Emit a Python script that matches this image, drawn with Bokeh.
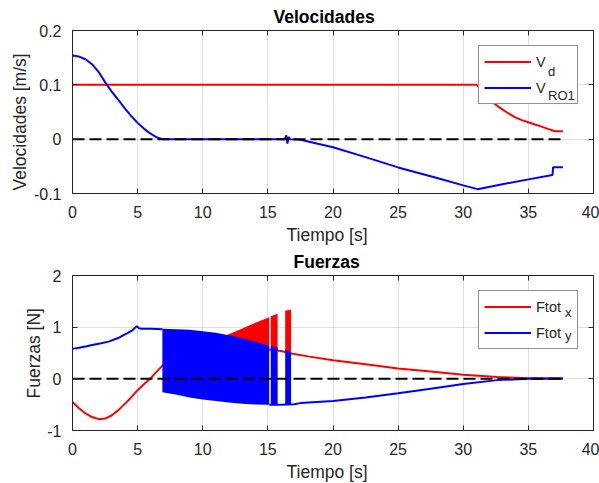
from bokeh.plotting import figure
from bokeh.models import Range1d, FixedTicker, LinearAxis, Legend, LegendItem, Title
from bokeh.layouts import column
from bokeh.embed import file_html
from bokeh.resources import INLINE

# ---------------- data ----------------
x_ticks = [0, 5, 10, 15, 20, 25, 30, 35, 40]
x_tick_labels = ["0", "5", "10", "15", "20", "25", "30", "35", "40"]

vel_ticks = [-0.1, 0, 0.1, 0.2]
vel_tick_labels = ["-0.1", "0", "0.1", "0.2"]
force_ticks = [-1, 0, 1, 2]
force_tick_labels = ["-1", "0", "1", "2"]

zero_t = [0, 37.65]
zero_v = [0, 0]

# Velocidades: V_d (red)
t_vd = [0, 31.03, 31.3, 31.8, 32.3, 32.8, 33.3, 34.0, 34.5, 35.0, 35.5, 35.9, 36.5, 37.05, 37.65]
v_d = [0.1, 0.1, 0.093, 0.080, 0.067, 0.058, 0.050, 0.040, 0.035, 0.031, 0.027, 0.024, 0.019, 0.0147, 0.0147]

# Velocidades: V_RO1 (blue)
t_vro = [0, 0.5, 1.0, 1.5, 2.0, 2.5, 3.0, 3.5, 4.0, 4.5, 5.0, 5.5, 6.0, 6.5, 6.9, 10, 16.3, 16.42,
         16.5, 16.6, 16.7, 17.5, 20, 22.5, 25, 28.2, 30, 31.1, 33, 35, 36.85, 36.9, 37.65]
v_ro1 = [0.154, 0.152, 0.147, 0.138, 0.124, 0.105, 0.088, 0.073, 0.057, 0.043, 0.030, 0.019, 0.010, 0.003,
         0.0, 0.0, 0.0, 0.007, -0.008, 0.004, 0.0, -0.001, -0.015, -0.033, -0.052, -0.073, -0.085, -0.092,
         -0.083, -0.074, -0.066, -0.0516, -0.0516]

# Fuerzas: Ftot_x (red)
t_fx = [0, 0.5, 1.0, 1.5, 2.0, 2.5, 3.0, 3.5, 4.0, 4.5, 5.0, 5.5, 6.0, 6.5, 7.0, 7.5, 8.5, 9.5, 10.5,
        11.5, 12.5, 13.5, 14.5, 15.04, 16.0, 16.8, 18.2, 20, 22.5, 25, 27.5, 30, 32.6, 35, 37.65]
f_x = [-0.45, -0.57, -0.67, -0.74, -0.78, -0.77, -0.71, -0.61, -0.49, -0.36, -0.22, -0.10, 0.01, 0.15,
       0.28, 0.38, 0.52, 0.62, 0.66, 0.66, 0.64, 0.62, 0.59, 0.57, 0.54, 0.49, 0.43, 0.36, 0.28, 0.20,
       0.14, 0.08, 0.037, 0.01, 0.01]
# dense oscillation of Ftot_x (envelope segments)
fx_osc_t = [[11.85, 13.0, 14.0, 15.1], [15.22, 15.75], [16.33, 16.78]]
fx_osc_top = [[0.85, 0.97, 1.08, 1.19], [1.21, 1.26], [1.32, 1.34]]
fx_osc_bot = [[0.66, 0.63, 0.60, 0.57], [0.57, 0.55], [0.53, 0.49]]

# Fuerzas: Ftot_y (blue)
t_fy_a = [0, 0.5, 1.1, 1.6, 2.2, 2.77, 3.5, 4.17, 4.6, 4.94, 5.1, 5.3, 6.0, 6.9]
f_y_a = [0.58, 0.60, 0.63, 0.66, 0.69, 0.72, 0.79, 0.88, 0.94, 1.02, 0.98, 0.97, 0.97, 0.96]
t_fy_b = [15.1, 16.0, 17.0, 17.5, 20, 22.5, 25, 27.5, 30, 32.6, 35, 37.65]
f_y_b = [-0.50, -0.50, -0.49, -0.47, -0.43, -0.36, -0.28, -0.19, -0.10, -0.025, 0.0, 0.0]
# dense oscillation of Ftot_y (envelope segments)
fy_osc_t = [[6.9, 8, 9, 10, 11, 12, 13, 14, 15.1], [15.22, 15.75], [16.33, 16.78]]
fy_osc_top = [[0.97, 0.96, 0.95, 0.92, 0.89, 0.845, 0.79, 0.72, 0.64], [0.63, 0.60], [0.57, 0.52]]
fy_osc_bot = [[-0.26, -0.31, -0.36, -0.40, -0.43, -0.46, -0.48, -0.495, -0.50], [-0.50, -0.50], [-0.50, -0.50]]

# ---------------- style ----------------
FONT = "Liberation Sans"
TXT = "#262626"
RED = "#ff0000"
BLUE = "#0000ff"


def mirror_axis(ticks):
    return LinearAxis(ticker=FixedTicker(ticks=ticks), major_label_text_font_size="1px",
                      major_label_text_color=None, major_label_standoff=0,
                      major_tick_in=5, major_tick_out=0, minor_tick_line_color=None,
                      axis_line_color=TXT, major_tick_line_color=TXT)


def base_fig(height, yr, yt, ytl, title, title_off, ylabel, ylabel_off, xlabel_off, mtop, mbot):
    p = figure(width=599, height=height, x_range=Range1d(0, 40), y_range=Range1d(*yr),
               output_backend="svg", toolbar_location=None, title=None,
               min_border_left=72, min_border_right=6, min_border_top=mtop, min_border_bottom=mbot,
               background_fill_color="white", border_fill_color="white")
    p.outline_line_color = TXT
    p.outline_line_width = 1
    p.xaxis.ticker = FixedTicker(ticks=x_ticks)
    p.xaxis.major_label_overrides = dict(zip(x_ticks, x_tick_labels))
    p.yaxis.ticker = FixedTicker(ticks=yt)
    p.yaxis.major_label_overrides = dict(zip(yt, ytl))
    for ax in p.axis:
        ax.major_tick_in = 5
        ax.major_tick_out = 0
        ax.minor_tick_line_color = None
        ax.axis_line_color = TXT
        ax.major_tick_line_color = TXT
        ax.major_label_text_font = FONT
        ax.major_label_text_font_size = "16px"
        ax.major_label_text_color = TXT
    p.xaxis.major_label_standoff = 12
    p.yaxis.major_label_standoff = 11
    p.xgrid.ticker = FixedTicker(ticks=x_ticks)
    p.ygrid.ticker = FixedTicker(ticks=yt)
    p.grid.grid_line_color = TXT
    p.grid.grid_line_alpha = 0.15
    p.grid.grid_line_width = 1
    p.add_layout(mirror_axis(x_ticks), "above")
    p.add_layout(mirror_axis(yt), "right")
    p.add_layout(Title(text=title, align="left", offset=title_off, text_font=FONT,
                       text_font_size="17.5px", text_font_style="bold", text_color="black",
                       standoff=7), "above")
    p.add_layout(Title(text="Tiempo [s]", align="left", offset=xlabel_off, text_font=FONT,
                       text_font_size="17.5px", text_font_style="normal", text_color=TXT,
                       standoff=4), "below")
    p.add_layout(Title(text=ylabel, align="left", offset=ylabel_off, text_font=FONT,
                       text_font_size="17.5px", text_font_style="normal", text_color=TXT,
                       standoff=1), "left")
    return p


def add_legend(p, r1, r2, main1, main2, sub1, sub2, sub_loc, sub_spacing):
    leg = Legend(items=[LegendItem(label=main1, renderers=[r1]), LegendItem(label=main2, renderers=[r2])],
                 location="top_right", margin=15, padding=5, spacing=5,
                 glyph_width=47, glyph_height=21, label_height=21, label_width=36, label_standoff=5,
                 label_text_font=FONT, label_text_font_size="14.5px", label_text_color=TXT,
                 border_line_color=TXT, border_line_width=1, background_fill_color="white",
                 background_fill_alpha=1.0)
    p.add_layout(leg)
    # subscripts: a second, frameless legend laid over the first one
    sub = Legend(items=[LegendItem(label=sub1, renderers=[r1]), LegendItem(label=sub2, renderers=[r2])],
                 location=sub_loc, margin=0, padding=0, spacing=sub_spacing,
                 glyph_width=0, glyph_height=20, label_height=20, label_width=10, label_standoff=0,
                 label_text_font=FONT, label_text_font_size="13px", label_text_color=TXT,
                 border_line_color=None, background_fill_alpha=0.0)
    p.add_layout(sub)


# ---------------- Velocidades ----------------
p1 = base_fig(246, (-0.1, 0.2), vel_ticks, vel_tick_labels, "Velocidades", 201,
              "Velocidades [m/s]", 3, 214, 30, 53)
r_vd = p1.line(t_vd, v_d, line_color=RED, line_width=2)
r_vro = p1.line(t_vro, v_ro1, line_color=BLUE, line_width=2)
p1.line(zero_t, zero_v, line_color="black", line_width=2, line_dash="12 5")
add_legend(p1, r_vd, r_vro, "V", "V", "d", "RO1", (476, 88), 4)

# ---------------- Fuerzas ----------------
p2 = base_fig(237, (-1, 2), force_ticks, force_tick_labels, "Fuerzas", 221,
              "Fuerzas [N]", 32, 214, 23, 51)
r_fx = p2.line(t_fx, f_x, line_color=RED, line_width=2)
for tt, top, bot in zip(fx_osc_t, fx_osc_top, fx_osc_bot):
    p2.varea(x=tt, y1=bot, y2=top, fill_color=RED)
r_fy = p2.line(t_fy_a, f_y_a, line_color=BLUE, line_width=2)
p2.line(t_fy_b, f_y_b, line_color=BLUE, line_width=2)
for tt, top, bot in zip(fy_osc_t, fy_osc_top, fy_osc_bot):
    p2.varea(x=tt, y1=bot, y2=top, fill_color=BLUE)
p2.line(zero_t, zero_v, line_color="black", line_width=2, line_dash="12 5")
add_legend(p2, r_fx, r_fy, "Ftot", "Ftot", "x", "y", (493, 85), 3)

layout = column(p1, p2, spacing=0)
open("out.html", "w").write(file_html(layout, INLINE))
